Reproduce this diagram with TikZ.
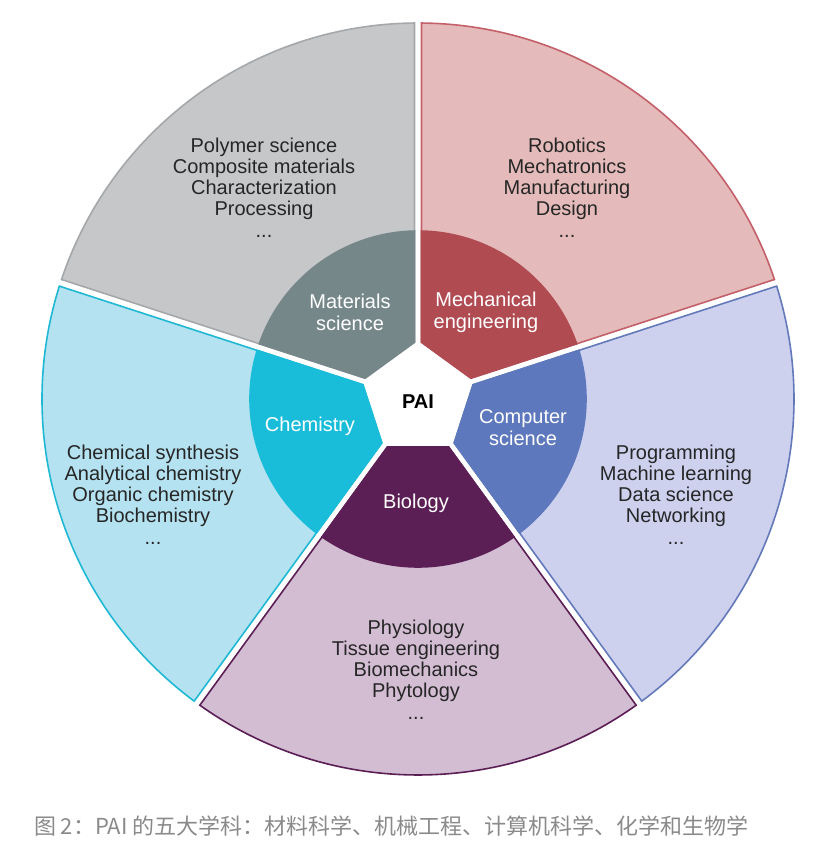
\documentclass[tikz,border=0pt]{standalone}
\usepackage{fontspec}
\setmainfont{Liberation Sans}
\newfontfamily\cjk{Noto Sans CJK SC}
\usepackage{xcolor}
\usepackage{tikz}
\usetikzlibrary{positioning}

\definecolor{matfill}{HTML}{C5C7C9}
\definecolor{matdark}{HTML}{76878A}
\definecolor{matline}{HTML}{A5A8AA}
\definecolor{mecfill}{HTML}{E4BBBA}
\definecolor{mecdark}{HTML}{B14B52}
\definecolor{mecline}{HTML}{C4606A}
\definecolor{comfill}{HTML}{CDD1EE}
\definecolor{comdark}{HTML}{5E78BD}
\definecolor{comline}{HTML}{6379BA}
\definecolor{biofill}{HTML}{D3BDD3}
\definecolor{biodark}{HTML}{5B1F56}
\definecolor{bioline}{HTML}{5B1F56}
\definecolor{chefill}{HTML}{B5E2F0}
\definecolor{chedark}{HTML}{19BDDA}
\definecolor{cheline}{HTML}{1FB8D4}
\definecolor{captiongray}{HTML}{8A8A8A}

\begin{document}
\begin{tikzpicture}[x=0.5pt,y=0.5pt,outer/.style={line width=0.8pt},inner/.style={line width=0.8pt}]
        \tikzstyle{listtext} = [align=center, text=black!85, font=\fontsize{10}{10.4}\selectfont]
        \tikzstyle{fieldtext} = [align=center, text=white, font=\fontsize{10}{11}\selectfont]
        \useasboundingbox (-418,-452) rectangle (414,399);

        % outer ring
        \draw[outer, fill=matfill, draw=matline] (93.5:56.9) -- (90.53:376) arc[start angle=90.53, end angle=161.47, radius=376] -- (158.5:56.9) -- cycle;
        \draw[outer, fill=chefill, draw=cheline] (165.5:56.9) -- (162.53:376) arc[start angle=162.53, end angle=233.47, radius=376] -- (230.5:56.9) -- cycle;
        \draw[outer, fill=biofill, draw=bioline] (237.5:56.9) -- (234.53:376) arc[start angle=234.53, end angle=305.47, radius=376] -- (302.5:56.9) -- cycle;
        \draw[outer, fill=comfill, draw=comline] (309.5:56.9) -- (306.53:376) arc[start angle=306.53, end angle=377.47, radius=376] -- (374.5:56.9) -- cycle;
        \draw[outer, fill=mecfill, draw=mecline] (21.5:56.9) -- (18.53:376) arc[start angle=18.53, end angle=89.47, radius=376] -- (86.5:56.9) -- cycle;

        % inner ring
        \draw[inner, fill=matdark, draw=matdark] (93.5:56.9) -- (91.19:168) arc[start angle=91.19, end angle=160.81, radius=168] -- (158.5:56.9) -- cycle;
        \draw[inner, fill=chedark, draw=chedark] (165.5:56.9) -- (163.19:168) arc[start angle=163.19, end angle=232.81, radius=168] -- (230.5:56.9) -- cycle;
        \draw[inner, fill=biodark, draw=biodark] (237.5:56.9) -- (235.19:168) arc[start angle=235.19, end angle=304.81, radius=168] -- (302.5:56.9) -- cycle;
        \draw[inner, fill=comdark, draw=comdark] (309.5:56.9) -- (307.19:168) arc[start angle=307.19, end angle=376.81, radius=168] -- (374.5:56.9) -- cycle;
        \draw[inner, fill=mecdark, draw=mecdark] (21.5:56.9) -- (19.19:168) arc[start angle=19.19, end angle=88.81, radius=168] -- (86.5:56.9) -- cycle;

        \node[font=\bfseries\fontsize{10}{12}\selectfont] (pai) at (0,-3) {PAI};

        \node[fieldtext] (mat) at (-68,87) {Materials\\science};
        \node[fieldtext] (mec) at (68,87) {Mechanical\\engineering};
        \node[fieldtext] (che) at (-108,-27) {Chemistry};
        \node[fieldtext] (com) at (105,-29) {Computer\\science};
        \node[fieldtext] (bio) at (-2,-104) {Biology};

        \node[listtext] (matlist) at (-154,211) {Polymer science\\Composite materials\\Characterization\\Processing\\[1pt]...};
        \node[listtext] (meclist) at (149,211) {Robotics\\Mechatronics\\Manufacturing\\Design\\[1pt]...};
        \node[listtext] (chelist) at (-265,-96) {Chemical synthesis\\Analytical chemistry\\Organic chemistry\\Biochemistry\\[1pt]...};
        \node[listtext] (comlist) at (258,-96) {Programming\\Machine learning\\Data science\\Networking\\[1pt]...};
        \node[listtext] (biolist) at (-2,-271) {Physiology\\Tissue engineering\\Biomechanics\\Phytology\\[1pt]...};

        \node[anchor=west, text=captiongray, font=\cjk\fontsize{11}{13}\selectfont] (caption) at (-391,-427) {图~2：PAI 的五大学科：材料科学、机械工程、计算机科学、化学和生物学};
\end{tikzpicture}
\end{document}
